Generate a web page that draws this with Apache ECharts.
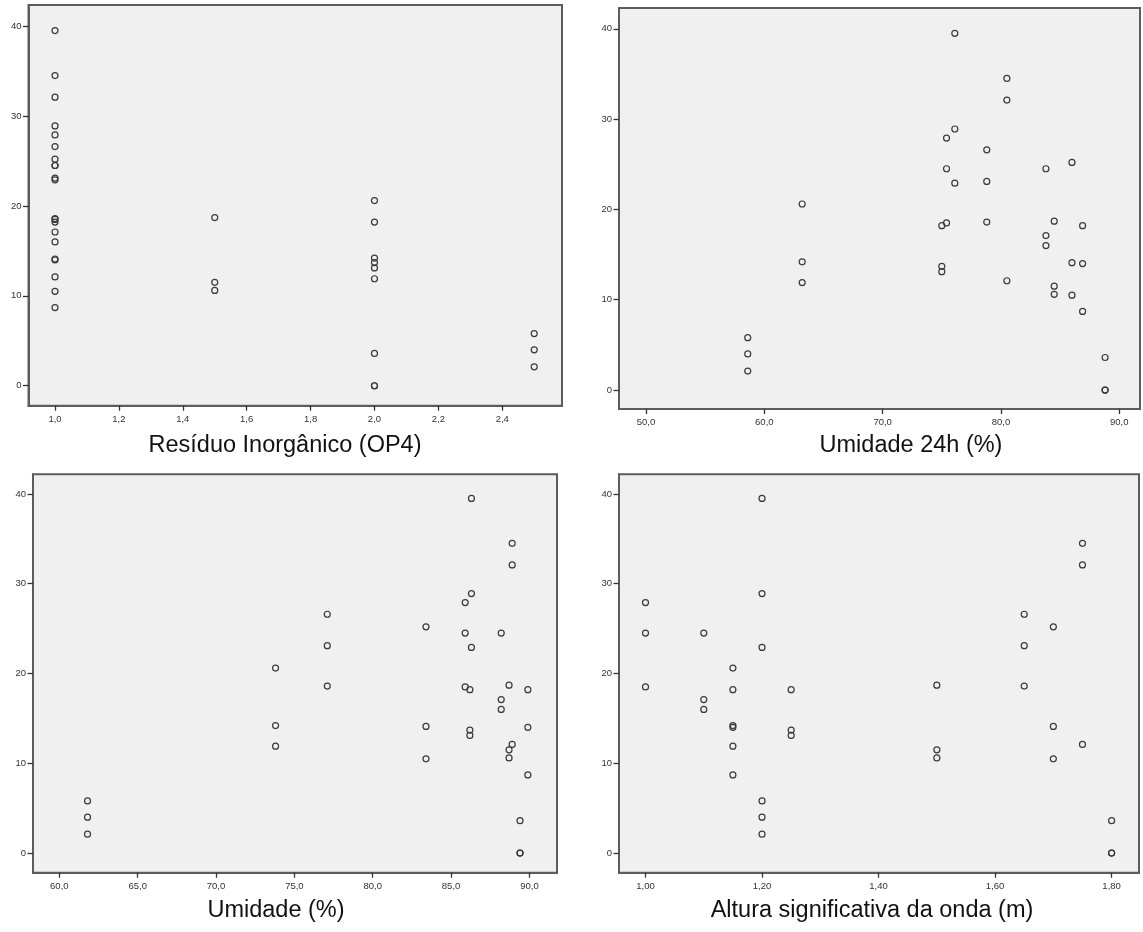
<!DOCTYPE html>
<html>
<head>
    <meta charset="utf-8">
    <title>Dispersão</title>
    <script src="https://cdn.jsdelivr.net/npm/echarts@6/dist/echarts.min.js"></script>
    <style>
        html, body {margin: 0; padding: 0; background: #fff;}
        #main {width: 1143px; height: 932px;}
    </style>
</head>
<body>
<div id="main"></div>
<script type="text/javascript">
    // eixo y: tres amostras por dia (12 dias)
    var amostra1 = [5.8, 20.6, 18.2, 27.9, 39.5, 26.6, 34.5, 24.5, 18.7, 25.2, 18.2, 3.6];
    var amostra2 = [4.0, 14.2, 13.7, 24.5, 28.9, 23.1, 32.1, 17.1, 11.5, 14.1, 14.0, 0.0];
    var amostra3 = [2.1, 11.9, 13.1, 18.5, 22.9, 18.6, 12.1, 16.0, 10.6, 10.5, 8.7, 0.0];

    // variaveis do eixo x, uma por dia
    var residuoInorganico = [2.5, 2.0, 2.0, 1.0, 1.0, 1.0, 1.0, 1.0, 1.5, 1.0, 1.0, 2.0];
    var umidade24h = [58.6, 63.2, 75.0, 75.4, 76.1, 78.8, 80.5, 83.8, 84.5, 86.0, 86.9, 88.8];
    var umidade = [61.8, 73.8, 86.2, 85.9, 86.3, 77.1, 88.9, 88.2, 88.7, 83.4, 89.9, 89.4];
    var alturaOnda = [1.20, 1.15, 1.25, 1.00, 1.20, 1.65, 1.75, 1.10, 1.50, 1.70, 1.15, 1.80];

    // marcas dos eixos
    var ticksResiduo = [1.0, 1.2, 1.4, 1.6, 1.8, 2.0, 2.2, 2.4];
    var ticksUmidade24h = [50, 60, 70, 80, 90];
    var ticksUmidade = [60, 65, 70, 75, 80, 85, 90];
    var ticksOnda = [1.0, 1.2, 1.4, 1.6, 1.8];
    var ticksY = [0, 10, 20, 30, 40];

    var fonte = '"Liberation Sans", Arial, sans-serif';

    var paineis = [
        {x: residuoInorganico, ticks: ticksResiduo, casas: 1, min: 0.917, max: 2.587, ymin: -2.22, ymax: 42.35,
            left: 28.5, top: 5, width: 533.5, height: 400.7, nome: 'Resíduo Inorgânico (OP4)', nx: 285, ny: 445.5},
        {x: umidade24h, ticks: ticksUmidade24h, casas: 1, min: 47.72, max: 91.75, ymin: -2.10, ymax: 42.30,
            left: 619, top: 8, width: 521, height: 401, nome: 'Umidade 24h (%)', nx: 911, ny: 445.5},
        {x: umidade, ticks: ticksUmidade, casas: 1, min: 58.32, max: 91.76, ymin: -2.19, ymax: 42.19,
            left: 33, top: 474.3, width: 524, height: 398.4, nome: 'Umidade (%)', nx: 276, ny: 910.5},
        {x: alturaOnda, ticks: ticksOnda, casas: 2, min: 0.9545, max: 1.847, ymin: -2.19, ymax: 42.19,
            left: 619, top: 474.3, width: 520, height: 398.4, nome: 'Altura significativa da onda (m)', nx: 872, ny: 910.5}
    ];

    function pontos(xs) {
        var d = [];
        for (var i = 0; i < xs.length; i++) {
            d.push([xs[i], amostra1[i]]);
            d.push([xs[i], amostra2[i]]);
            d.push([xs[i], amostra3[i]]);
        }
        return d;
    }

    var grids = [], xAxes = [], yAxes = [], series = [], textos = [];
    paineis.forEach(function (p, i) {
        grids.push({
            left: p.left, top: p.top, width: p.width, height: p.height,
            show: true, backgroundColor: '#f0f0f0', borderColor: '#5c5c5c', borderWidth: 2
        });
        xAxes.push({
            type: 'value', gridIndex: i, min: p.min, max: p.max,
            axisLine: {show: true, onZero: false, lineStyle: {color: '#5c5c5c', width: 2}},
            axisTick: {show: true, length: 5, customValues: p.ticks, lineStyle: {color: '#333', width: 1.3}},
            axisLabel: {
                customValues: p.ticks, margin: 8.5, color: '#333', fontSize: 9.5, fontFamily: fonte,
                formatter: (function (c) {
                    return function (v) { return v.toFixed(c).replace('.', ','); };
                })(p.casas)
            },
            splitLine: {show: false}
        });
        yAxes.push({
            type: 'value', gridIndex: i, min: p.ymin, max: p.ymax,
            axisLine: {show: true, onZero: false, lineStyle: {color: '#5c5c5c', width: 2}},
            axisTick: {show: true, length: 5.5, customValues: ticksY, lineStyle: {color: '#333', width: 1.3}},
            axisLabel: {customValues: ticksY, margin: 7, color: '#333', fontSize: 9.5, fontFamily: fonte},
            splitLine: {show: false}
        });
        series.push({
            type: 'scatter', xAxisIndex: i, yAxisIndex: i,
            symbol: 'circle', symbolSize: 6,
            itemStyle: {color: 'rgba(0,0,0,0)', borderColor: '#3a3a3a', borderWidth: 1.2, opacity: 1},
            silent: true,
            data: pontos(p.x)
        });
        textos.push({
            type: 'text', x: p.nx, y: p.ny,
            style: {
                text: p.nome, font: '23.5px ' + fonte, fill: '#111',
                textAlign: 'center', textVerticalAlign: 'middle'
            }
        });
    });

    var myChart = echarts.init(document.getElementById('main'), null, {renderer: 'canvas'});
    var option = {
        backgroundColor: '#ffffff',
        animation: false,
        grid: grids,
        xAxis: xAxes,
        yAxis: yAxes,
        series: series,
        graphic: textos
    };
    myChart.setOption(option);
</script>
</body>
</html>
